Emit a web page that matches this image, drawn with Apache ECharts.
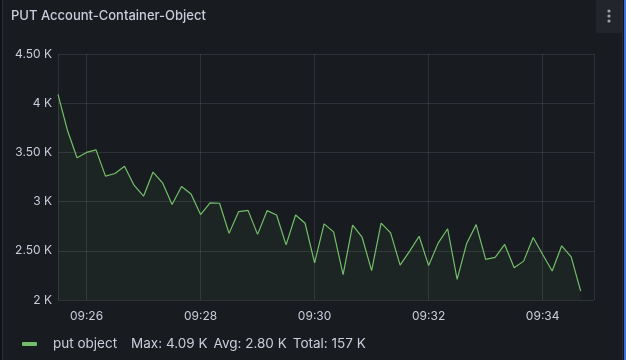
<!DOCTYPE html>
<html>
<head>
<meta charset="utf-8">
<script src="https://cdn.jsdelivr.net/npm/echarts@6/dist/echarts.min.js"></script>
<style>
html,body{margin:0;padding:0;background:#111217;width:626px;height:360px;overflow:hidden;}
#panel{position:absolute;left:2px;top:-1px;width:619px;height:361px;background:#181b1f;border:1px solid #2a2d33;border-radius:2px;}
#edge{position:absolute;left:624px;top:0;width:2px;height:360px;background:#3d71d9;}
#menu{position:absolute;left:596px;top:0;width:26px;height:33px;background:#22252b;border-radius:2px;}
#chart{position:absolute;left:0;top:0;width:626px;height:360px;}
</style>
</head>
<body>
<div id="panel"></div>
<div id="edge"></div>
<div id="menu"></div>
<div id="chart"></div>
<script>
const panelTitle = 'PUT Account-Container-Object';
const seriesName = 'put object';
const startTime = Date.UTC(2024, 0, 1, 9, 25, 30);
const stepMs = 10000;
const axisMin = Date.UTC(2024, 0, 1, 9, 25, 30);
const axisMax = Date.UTC(2024, 0, 1, 9, 34, 54);
const values = [4090,3722,3445,3500,3526,3259,3286,3360,3167,3055,
                3300,3191,2970,3153,3078,2868,2987,2983,2677,2898,
                2911,2667,2908,2864,2560,2864,2780,2378,2774,2692,
                2258,2760,2638,2299,2781,2682,2354,2497,2648,2350,
                2578,2724,2209,2575,2766,2412,2433,2565,2327,2395,
                2636,2463,2295,2551,2439,2090];
const yTicks = [2000, 2500, 3000, 3500, 4000, 4500];

const data = values.map((v, i) => [startTime + i * stepMs, v]);
const maxV = Math.max(...values);
const totalV = values.reduce((a, b) => a + b, 0);
const avgV = totalV / values.length;
function kfmt(v){
  const k = v / 1000;
  return (Number.isInteger(k) ? String(k) : k.toFixed(2)) + ' K';
}
const statMax = 'Max: ' + kfmt(maxV);
const statAvg = 'Avg: ' + kfmt(avgV);
const statTotal = 'Total: ' + Math.round(totalV/1000) + ' K';
function pad(n){return (n<10?'0':'')+n;}

const chart = echarts.init(document.getElementById('chart'), null, {renderer:'canvas'});
chart.setOption({
  backgroundColor: 'transparent',
  animation: false,
  textStyle: {fontFamily: 'Inter'},
  title: {
    text: panelTitle, left: 6, top: 5,
    textStyle: {color: '#ccccdc', fontSize: 13, fontWeight: 500, fontFamily: 'Inter'}
  },
  graphic: [
    {type:'circle', shape:{cx:609, cy:11, r:1.6}, style:{fill:'#9fa1aa'}},
    {type:'circle', shape:{cx:609, cy:16, r:1.6}, style:{fill:'#9fa1aa'}},
    {type:'circle', shape:{cx:609, cy:21, r:1.6}, style:{fill:'#9fa1aa'}}
  ],
  grid: {left: 58, right: 32, top: 54, bottom: 60},
  legend: {
    left: 17, top: 332,
    icon: 'roundRect', itemWidth: 15, itemHeight: 4,
    data: [seriesName],
    formatter: function(name){ return '{n|' + name + '}{s|' + statMax + '}{s|' + statAvg + '}{s|' + statTotal + '}'; },
    textStyle: {
      color: '#ccccdc', fontSize: 13.5, fontFamily: 'Inter',
      rich: {
        n: {color:'#ccccdc', fontSize:13.5, fontFamily:'Inter', padding:[0,14,0,11]},
        s: {color:'#ccccdc', fontSize:13.5, fontFamily:'Inter', padding:[0,6,0,0]}
      }
    }
  },
  xAxis: {
    type: 'time', min: axisMin, max: axisMax,
    splitNumber: 4,
    axisLine: {show: false}, axisTick: {show: false},
    splitLine: {show: true, lineStyle: {color: 'rgba(204,204,220,0.13)', width: 1}},
    axisLabel: {
      color: '#ccccdc', fontSize: 12, margin: 10, fontFamily: 'Inter',
      formatter: function(v){ const d = new Date(v); return pad(d.getUTCHours()) + ':' + pad(d.getUTCMinutes()); }
    }
  },
  yAxis: {
    type: 'value', min: yTicks[0], max: yTicks[yTicks.length-1], interval: yTicks[1]-yTicks[0],
    axisLine: {show: false}, axisTick: {show: false},
    splitLine: {show: true, lineStyle: {color: 'rgba(204,204,220,0.13)', width: 1}},
    axisLabel: {color: '#ccccdc', fontSize: 12, margin: 6, fontFamily: 'Inter', formatter: kfmt}
  },
  series: [{
    name: seriesName, type: 'line', data: data,
    showSymbol: false, symbol: 'none',
    lineStyle: {color: '#73bf69', width: 1.2},
    itemStyle: {color: '#73bf69'},
    areaStyle: {color: 'rgba(115,191,105,0.09)'}
  }]
});
</script>
</body>
</html>
